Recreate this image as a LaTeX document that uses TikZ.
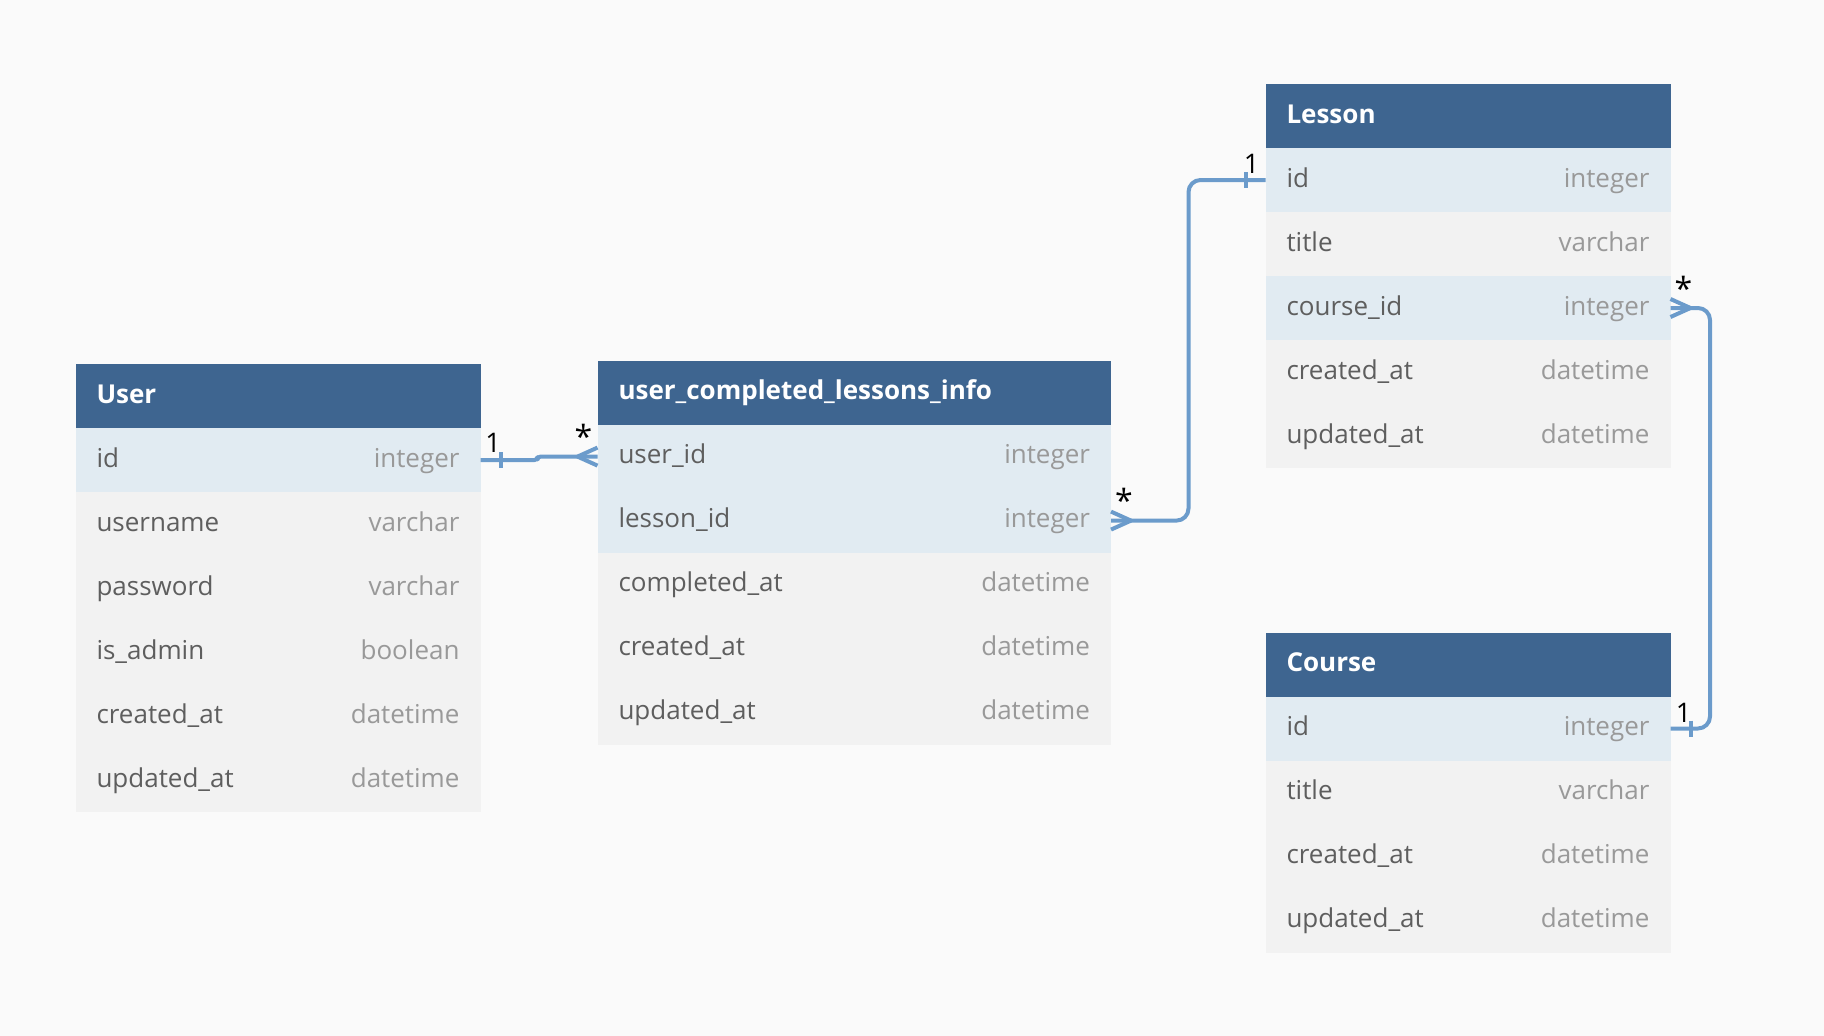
\documentclass[tikz,border=0pt]{standalone}
\usepackage{fontspec}
\setmainfont{Open Sans}
\usetikzlibrary{positioning}
\definecolor{headblue}{HTML}{3E6590}
\definecolor{keyblue}{HTML}{E1EBF2}
\definecolor{rowgray}{HTML}{F2F2F2}
\definecolor{paper}{HTML}{FAFAFA}
\definecolor{namegray}{HTML}{5E5E5E}
\definecolor{typegray}{HTML}{999999}
\definecolor{linkblue}{HTML}{6B9BCB}
\newcommand{\ftype}[1]{\hfill\textcolor{typegray}{#1}}

\begin{document}
\begin{tikzpicture}[x=1pt,y=-1pt,
        tbl/.style={rectangle,minimum height=64pt,inner xsep=21pt,inner ysep=0pt,outer sep=0pt,text width=363pt,text height=20pt,text depth=6pt,font=\fontsize{26}{30}\selectfont},
        head/.style={tbl,fill=headblue,text=white,font=\fontsize{26}{30}\selectfont\bfseries},
        keyrow/.style={tbl,fill=keyblue,text=namegray},
        row/.style={tbl,fill=rowgray,text=namegray},
        wide/.style={text width=471.5pt},
        link/.style={draw=linkblue,line width=4pt,line join=round},
        card/.style={inner sep=0pt,font=\fontsize{27}{27}\selectfont},
        many/.style={inner sep=0pt,font=\fontsize{32}{32}\selectfont}]
        \fill[paper] (0,0) rectangle (1824,1036);

        % User
        \node [head,anchor=north west] (user) at (75.5,364) {User};
        \node [keyrow,below=0pt of user] (user-id) {id\ftype{integer}};
        \node [row,below=0pt of user-id] (user-name) {username\ftype{varchar}};
        \node [row,below=0pt of user-name] (user-pw) {password\ftype{varchar}};
        \node [row,below=0pt of user-pw] (user-admin) {is\_admin\ftype{boolean}};
        \node [row,below=0pt of user-admin] (user-cr) {created\_at\ftype{datetime}};
        \node [row,below=0pt of user-cr] (user-up) {updated\_at\ftype{datetime}};

        % user_completed_lessons_info
        \node [head,wide,anchor=north west] (ucl) at (597.5,360.6) {user\_completed\_lessons\_info};
        \node [keyrow,wide,below=0pt of ucl] (ucl-uid) {user\_id\ftype{integer}};
        \node [keyrow,wide,below=0pt of ucl-uid] (ucl-lid) {lesson\_id\ftype{integer}};
        \node [row,wide,below=0pt of ucl-lid] (ucl-done) {completed\_at\ftype{datetime}};
        \node [row,wide,below=0pt of ucl-done] (ucl-cr) {created\_at\ftype{datetime}};
        \node [row,wide,below=0pt of ucl-cr] (ucl-up) {updated\_at\ftype{datetime}};

        % Lesson
        \node [head,anchor=north west] (lesson) at (1265.5,84) {Lesson};
        \node [keyrow,below=0pt of lesson] (lesson-id) {id\ftype{integer}};
        \node [row,below=0pt of lesson-id] (lesson-title) {title\ftype{varchar}};
        \node [keyrow,below=0pt of lesson-title] (lesson-cid) {course\_id\ftype{integer}};
        \node [row,below=0pt of lesson-cid] (lesson-cr) {created\_at\ftype{datetime}};
        \node [row,below=0pt of lesson-cr] (lesson-up) {updated\_at\ftype{datetime}};

        % Course
        \node [head,anchor=north west] (course) at (1265.5,632.5) {Course};
        \node [keyrow,below=0pt of course] (course-id) {id\ftype{integer}};
        \node [row,below=0pt of course-id] (course-title) {title\ftype{varchar}};
        \node [row,below=0pt of course-title] (course-cr) {created\_at\ftype{datetime}};
        \node [row,below=0pt of course-cr] (course-up) {updated\_at\ftype{datetime}};

        % User.id 1 -- * user_completed_lessons_info.user_id
        \draw[link,rounded corners=3pt] (user-id.east) -- ++(57,0) |- (ucl-uid.west);
        \draw[link] ([xshift=20pt,yshift=8pt]user-id.east) -- ([xshift=20pt,yshift=-8pt]user-id.east);
        \draw[link] ([yshift=9pt]ucl-uid.west) -- ([xshift=-20pt]ucl-uid.west) -- ([yshift=-9pt]ucl-uid.west);
        \node [card] (c-user) at ([xshift=12.5pt,yshift=17pt]user-id.east) {1};
        \node [many] (c-ucl-u) at ([xshift=-14pt,yshift=20pt]ucl-uid.west) {*};

        % user_completed_lessons_info.lesson_id * -- 1 Lesson.id
        \draw[link,rounded corners=12pt] (ucl-lid.east) -- ++(77.5,0) |- (lesson-id.west);
        \draw[link] ([yshift=9pt]ucl-lid.east) -- ([xshift=20pt]ucl-lid.east) -- ([yshift=-9pt]ucl-lid.east);
        \draw[link] ([xshift=-20pt,yshift=8pt]lesson-id.west) -- ([xshift=-20pt,yshift=-8pt]lesson-id.west);
        \node [many] (c-ucl-l) at ([xshift=13pt,yshift=20pt]ucl-lid.east) {*};
        \node [card] (c-lesson) at ([xshift=-14pt,yshift=16pt]lesson-id.west) {1};

        % Lesson.course_id * -- 1 Course.id
        \draw[link,rounded corners=12pt] (lesson-cid.east) -- ++(39.5,0) |- (course-id.east);
        \draw[link] ([yshift=9pt]lesson-cid.east) -- ([xshift=20pt]lesson-cid.east) -- ([yshift=-9pt]lesson-cid.east);
        \draw[link] ([xshift=20pt,yshift=8pt]course-id.east) -- ([xshift=20pt,yshift=-8pt]course-id.east);
        \node [many] (c-lesson-c) at ([xshift=13pt,yshift=20pt]lesson-cid.east) {*};
        \node [card] (c-course) at ([xshift=13pt,yshift=16pt]course-id.east) {1};
\end{tikzpicture}
\end{document}
